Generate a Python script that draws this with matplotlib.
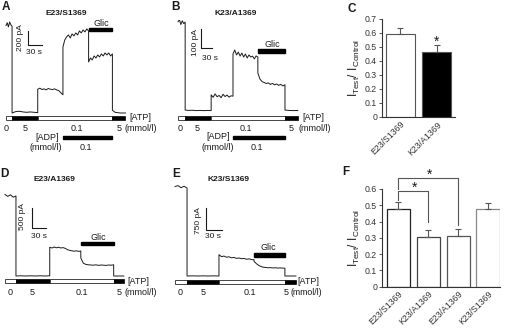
import numpy as np
import matplotlib
matplotlib.use('Agg')
import matplotlib.pyplot as plt
from matplotlib.patches import Rectangle
from matplotlib.transforms import Affine2D, blended_transform_factory

plt.rcParams['font.family'] = ['Liberation Sans', 'DejaVu Sans']

# ---- trace data: segment durations (s), [ATP] per segment, ADP / Glic flags, current samples (pA)
A_dur = [13, 55, 54, 55, 51, 28]
A_atp = [0, 5, 0.1, 0.1, 0.1, 5]
A_adp = [0, 0, 0, 1, 1, 0]
A_glic = [0, 0, 0, 0, 1, 0]
A_cur = [
    [1250, 1290, 1230, 1300, 1260, 1240],
    [0, 20, 25, 15, 10, 15, 10, 5],
    [340, 355, 335, 345, 330, 350, 340, 335, 345, 330, 320, 290, 260],
    [944, 1044, 1087, 1115, 1072, 1130, 1101, 1144, 1115, 1172, 1144, 1187, 1158, 1201, 1172],
    [729, 786, 758, 815, 786, 829, 801, 844, 815, 858, 829, 858, 815, 844],
    [40, 10, 5, 0, 0, 0],
]

B_dur = [19, 69, 58, 66, 72, 34]
B_atp = [0, 5, 0.1, 0.1, 0.1, 5]
B_adp = [0, 0, 0, 1, 1, 0]
B_glic = [0, 0, 0, 0, 1, 0]
B_cur = [
    [470, 480, 455, 475, 460, 468],
    [5, 3, 4, 2, 3, 2, 3, 2],
    [85, 72, 90, 75, 82, 70, 88, 76, 84, 73, 80, 78],
    [300, 321, 295, 310, 289, 305, 284, 300, 279, 295, 284, 289, 274, 290, 284],
    [200, 168, 155, 150, 145, 148, 140, 145, 138, 142, 135, 140, 132, 138],
    [5, 3, 2, 3],
]

D_dur = [24, 74, 68, 72, 22]
D_atp = [0, 5, 0.1, 0.1, 5]
D_adp = [0, 0, 0, 0, 0]
D_glic = [0, 0, 0, 1, 0]
D_cur = [
    [2040, 1990, 2030, 1970, 2000],
    [0, 5, 0, 5, 0, 5, 0, 5],
    [720, 700, 725, 705, 720, 700, 710, 690, 660, 640, 630, 620, 630, 615, 625],
    [450, 320, 290, 280, 275, 270, 280, 265, 275, 270, 265, 275, 270, 280],
    [0, 0, 0],
]

E_dur = [23, 61, 67, 59, 21]
E_atp = [0, 5, 0.1, 0.1, 5]
E_adp = [0, 0, 0, 0, 0]
E_glic = [0, 0, 0, 1, 0]
E_cur = [
    [3050, 3080, 3010, 3060, 3000],
    [0, 5, 0, 5, 0, 5, 0],
    [727, 660, 680, 640, 655, 620, 635, 600, 615, 590, 600, 570, 585, 560, 555],
    [500, 420, 360, 320, 300, 290, 280, 285, 275, 280, 270, 275, 270, 265],
    [0, 0, 0],
]

# ---- bar chart data
C_labels = ['E23/S1369', 'K23/A1369']
C_vals = [0.595, 0.465]
C_err = [0.04, 0.048]

F_labels = ['E23/S1369', 'K23/A1369', 'E23/A1369', 'K23/S1369']
F_vals = [0.48, 0.307, 0.313, 0.475]
F_err = [0.04, 0.043, 0.04, 0.041]

W, H = 505, 328
fig = plt.figure(figsize=(W / 100, H / 100), dpi=100)
pix = Affine2D().scale(1 / W, -1 / H).translate(0, 1) + fig.transFigure
INK = '#1a1a1a'


def ptext(x, y, s, size=6.5, **kw):
    fig.text(x, y, s, transform=pix, fontsize=size, ha='center', va='center', color=INK, **kw)


def trace_panel(box, x0, y0, s_px, pa_px, dur, atp, adp, glic, cur, atp_y, glic_y, adp_y, scale):
    l, t, r, b = box
    ax = fig.add_axes([l / W, 1 - b / H, (r - l) / W, (b - t) / H])
    ax.set_xlim((l - x0) * s_px, (r - x0) * s_px)
    ax.set_ylim((y0 - b) * pa_px, (y0 - t) * pa_px)
    ax.axis('off')
    edges = np.concatenate([[0], np.cumsum(dur)])
    tt, ii = [], []
    for k, seg in enumerate(cur):
        tt.append(np.linspace(edges[k], edges[k + 1], len(seg)))
        ii.append(seg)
    ax.plot(np.concatenate(tt), np.concatenate(ii), color=INK, lw=0.7)

    bl = blended_transform_factory(ax.transData, pix)
    # ATP protocol bar (merge runs)
    k = 0
    while k < len(atp):
        j = k
        while j + 1 < len(atp) and atp[j + 1] == atp[k]:
            j += 1
        if atp[k] >= 1:
            rect = Rectangle((edges[k], atp_y - 2), edges[j + 1] - edges[k], 4, transform=bl,
                             facecolor='black', edgecolor='black', lw=0.5, clip_on=False)
        else:
            rect = Rectangle((edges[k], atp_y - 1.6), edges[j + 1] - edges[k], 3.2, transform=bl,
                             facecolor='white', edgecolor='#444', lw=0.7, clip_on=False)
        ax.add_patch(rect)
        k = j + 1
    g = [n for n, v in enumerate(glic) if v]
    ax.add_patch(Rectangle((edges[g[0]], glic_y - 1.7), edges[g[-1] + 1] - edges[g[0]], 3.4,
                           transform=bl, color='black', clip_on=False))
    a = [n for n, v in enumerate(adp) if v]
    if a:
        ax.add_patch(Rectangle((edges[a[0]], adp_y - 1.7), edges[a[-1] + 1] - edges[a[0]], 3.4,
                               transform=bl, color='black', clip_on=False))
    # scale bar
    sx, sy, amp = scale
    ts, ic = (sx - x0) * s_px, (y0 - sy) * pa_px
    ax.plot([ts, ts, ts + 30], [ic + amp, ic, ic], color=INK, lw=0.8, clip_on=False)
    return ax


# ---- A
trace_panel((0, 20, 160, 160), 6, 113, 30 / 14, 200 / 14, A_dur, A_atp, A_adp, A_glic, A_cur,
            118, 29.3, 137.7, (28, 45, 200))
ptext(6, 7.5, 'A', size=8.5, weight='bold')
ptext(66, 13.5, 'E23/S1369', size=6, weight='bold')
ptext(101, 23, 'Glic')
ptext(21, 38, '200 pA', size=6, rotation=90)
ptext(34, 52.5, '30 s', size=6)
ptext(140, 118, '[ATP]')
ptext(141, 128.5, '(mmol/l)')
for x, s in [(6, '0'), (25, '5'), (77, '0.1'), (119, '5')]:
    ptext(x, 128.5, s)
ptext(47, 137, '[ADP]')
ptext(46, 147.5, '(mmol/l)')
ptext(86, 147.5, '0.1')

# ---- B
trace_panel((160, 20, 340, 160), 178, 111, 30 / 11.3, 100 / 19, B_dur, B_atp, B_adp, B_glic, B_cur,
            118, 50.8, 137.5, (200.7, 48, 100))
ptext(176, 7.5, 'B', size=8.5, weight='bold')
ptext(236, 13.5, 'K23/A1369', size=6, weight='bold')
ptext(272, 44.5, 'Glic')
ptext(195.5, 43, '100 pA', size=6, rotation=90)
ptext(210, 58.5, '30 s', size=6)
ptext(313, 117, '[ATP]')
ptext(315, 128.5, '(mmol/l)')
for x, s in [(180, '0'), (197, '5'), (246, '0.1'), (291, '5')]:
    ptext(x, 128.5, s)
ptext(218, 136.5, '[ADP]')
ptext(218, 147.5, '(mmol/l)')
ptext(257, 147.5, '0.1')

# ---- D
trace_panel((0, 185, 160, 300), 5, 276, 30 / 13.7, 500 / 20, D_dur, D_atp, D_adp, D_glic, D_cur,
            281, 243.7, 0, (32.3, 227.7, 500))
ptext(4.5, 174, 'D', size=8.5, weight='bold')
ptext(54, 179.5, 'E23/A1369', size=6, weight='bold')
ptext(98, 237.5, 'Glic')
ptext(23, 216, '500 pA', size=6, rotation=90)
ptext(38.5, 237, '30 s', size=6)
ptext(138, 282, '[ATP]')
ptext(141, 292.5, '(mmol/l)')
for x, s in [(10, '0'), (32, '5'), (82, '0.1'), (119, '5')]:
    ptext(x, 292.5, s)

# ---- E
trace_panel((160, 185, 340, 300), 175, 276, 30 / 15.7, 750 / 22, E_dur, E_atp, E_adp, E_glic, E_cur,
            282, 255, 0, (206, 230, 750))
ptext(176, 174, 'E', size=8.5, weight='bold')
ptext(228, 179.5, 'K23/S1369', size=6, weight='bold')
ptext(268, 248, 'Glic')
ptext(199, 221, '750 pA', size=6, rotation=90)
ptext(213, 237, '30 s', size=6)
ptext(308, 282, '[ATP]')
ptext(306, 292.5, '(mmol/l)', size=6.3)
for x, s in [(180, '0'), (203, '5'), (250, '0.1'), (286, '5')]:
    ptext(x, 292.5, s)


# ---- bar panels
def bar_axes(box, ylim, yticks):
    l, t, r, b = box
    ax = fig.add_axes([l / W, 1 - b / H, (r - l) / W, (b - t) / H])
    ax.set_ylim(*ylim)
    ax.set_yticks(yticks)
    ax.set_yticklabels(['0' if v == 0 else f'{v:.1f}' for v in yticks])
    ax.spines[['top', 'right']].set_visible(False)
    for sp in ['left', 'bottom']:
        ax.spines[sp].set_color('#333')
        ax.spines[sp].set_linewidth(0.8)
    ax.tick_params(axis='y', length=2, width=0.6, labelsize=6.3, colors='#333', pad=1.5)
    ax.tick_params(axis='x', length=0, labelsize=6.3, colors='#333', pad=2)
    ax.set_ylabel(r'$\mathregular{I_{Test}/\ I_{Control}}$', fontsize=8.5, color=INK, labelpad=2)
    return ax


axC = bar_axes((382, 19, 455, 117), (0, 0.7), np.arange(0, 0.71, 0.1))
xc = np.arange(len(C_vals))
axC.bar(xc, C_vals, width=0.8, color=['white', 'black'], edgecolor='#555', lw=0.8)
axC.errorbar(xc, C_vals, yerr=[np.zeros(len(C_err)), C_err], fmt='none', ecolor='#555',
             elinewidth=0.8, capsize=2.5, capthick=0.8)
axC.set_xlim(-0.5, 1.5)
axC.set_xticks(xc)
axC.set_xticklabels(C_labels, rotation=45, ha='right', rotation_mode='anchor')
axC.text(1, 0.535, '*', ha='center', va='center', fontsize=10, color=INK)
ptext(352, 8.5, 'C', size=8.5, weight='bold')

axF = bar_axes((382, 189, 500, 286.7), (0, 0.6), np.arange(0, 0.61, 0.1))
xf = np.arange(len(F_vals))
axF.bar(xf, F_vals, width=0.78, color='white', edgecolor=['#222', '#444', '#555', '#888'], lw=0.9)
axF.errorbar(xf, F_vals, yerr=[np.zeros(len(F_err)), F_err], fmt='none', ecolor='#555',
             elinewidth=0.8, capsize=2.5, capthick=0.8)
axF.set_xlim(-0.55, 3.4)
axF.set_xticks(xf)
axF.set_xticklabels(F_labels, rotation=45, ha='right', rotation_mode='anchor')
axF.plot([0, 0, 1, 1], [0.53, 0.59, 0.59, 0.40], color='#555', lw=0.8, clip_on=False)
axF.plot([0, 0, 2, 2], [0.60, 0.668, 0.668, 0.38], color='#555', lw=0.8, clip_on=False)
axF.text(0.55, 0.607, '*', ha='center', va='center', fontsize=10, color=INK)
axF.text(1.05, 0.69, '*', ha='center', va='center', fontsize=10, color=INK)
ptext(346, 172, 'F', size=8.5, weight='bold')

fig.savefig('out.png', dpi=100)
